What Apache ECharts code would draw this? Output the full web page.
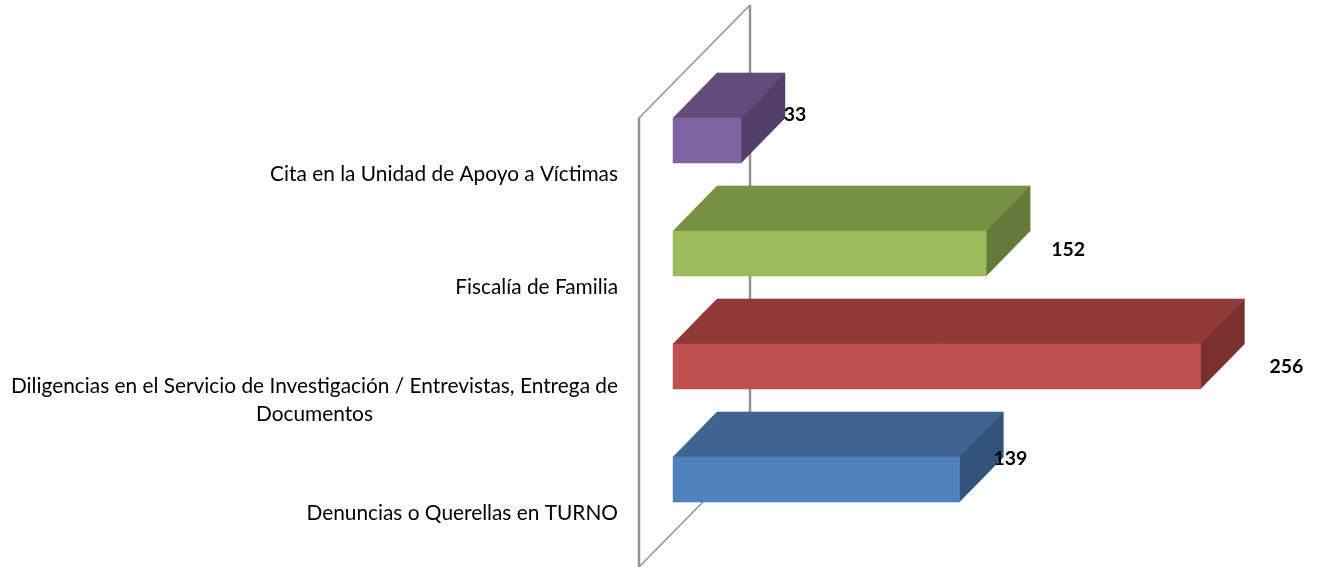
<!DOCTYPE html>
<html>
<head>
<meta charset="utf-8">
<style>
  html, body { margin: 0; padding: 0; background: #fff; }
  #main { width: 1342px; height: 567px; }
</style>
<script src="https://cdn.jsdelivr.net/npm/echarts@6/dist/echarts.min.js"></script>
</head>
<body>
<div id="main"></div>
<script>
// bottom to top, same order as the picture's axis
const categories = [
  'Denuncias o Querellas en TURNO',
  'Diligencias en el Servicio de Investigación / Entrevistas, Entrega de\nDocumentos',
  'Fiscalía de Familia',
  'Cita en la Unidad de Apoyo a Víctimas'
];
const values = [139, 256, 152, 33];

const frontColors = ['#4F81BD', '#C0504D', '#9BBB59', '#8064A2'];
const topColors = ['#3E648F', '#8F3A39', '#769141', '#624D7A'];
const sideColors = ['#32537A', '#7A302F', '#647A38', '#533F69'];

// the data labels sit in odd places in the original, so nudge each one from the bar end
const labelNudgeX = [51, 86, 82, 54];
const labelNudgeY = [-20.5, 0.5, -3.5, -25.5];

// fake 3d: the axis bands live on the front of the wall, the bars float above them
const barLift = 34;
const depthX = 44;
const depthY = 45;
const wallLeft = 34;
const wallDepthX = 111;
const wallDepthY = 113;
const wallColor = '#939393';

let myChart = echarts.init(document.getElementById('main'));

function renderWall(params, api) {
  const cs = params.coordSys;
  const x0 = cs.x - wallLeft;
  const x1 = x0 + wallDepthX;
  const top = cs.y;
  const bottom = api.getHeight();
  const line = (a, b, c, d, w) => ({
    type: 'line',
    shape: { x1: a, y1: b, x2: c, y2: d },
    style: { stroke: wallColor, lineWidth: w }
  });
  return {
    type: 'group',
    children: [
      line(x0, top, x0, bottom, 2.5),
      line(x1, top - wallDepthY, x1, bottom - wallDepthY, 2.5),
      line(x0, top, x1, top - wallDepthY, 1.6),
      line(x0, bottom, x1, bottom - wallDepthY, 1.6)
    ]
  };
}

function renderBar(params, api) {
  const i = params.dataIndex;
  const start = api.coord([0, api.value(1)]);
  const end = api.coord([api.value(0), api.value(1)]);
  const h = api.size([0, 1])[1] * 0.4;
  const x0 = start[0];
  const x1 = end[0];
  const y0 = end[1] - barLift - h / 2;
  const y1 = y0 + h;
  return {
    type: 'group',
    children: [
      {
        type: 'polygon',
        shape: { points: [[x0, y0], [x0 + depthX, y0 - depthY], [x1 + depthX, y0 - depthY], [x1, y0]] },
        style: { fill: topColors[i], stroke: topColors[i], lineWidth: 0.5 }
      },
      {
        type: 'polygon',
        shape: { points: [[x1, y0], [x1 + depthX, y0 - depthY], [x1 + depthX, y1 - depthY], [x1, y1]] },
        style: { fill: sideColors[i], stroke: sideColors[i], lineWidth: 0.5 }
      },
      {
        type: 'rect',
        shape: { x: x0, y: y0, width: x1 - x0, height: h },
        style: { fill: frontColors[i], stroke: frontColors[i], lineWidth: 0.5 }
      },
      {
        type: 'text',
        style: {
          x: x1 + labelNudgeX[i],
          y: end[1] - barLift + labelNudgeY[i],
          text: String(api.value(0)),
          fill: '#000',
          font: 'bold 19.5px Lato',
          align: 'center',
          verticalAlign: 'middle'
        }
      }
    ]
  };
}

myChart.setOption({
  animation: false,
  grid: { left: 673, top: 118, width: 618, height: 452, outerBoundsMode: 'none' },
  xAxis: { type: 'value', min: 0, max: 300, show: false },
  yAxis: {
    type: 'category',
    data: categories,
    axisLine: { show: false },
    axisTick: { show: false },
    axisLabel: {
      margin: 55,
      color: '#000',
      align: 'right',
      formatter: function (value) {
        return value.split('\n').map(s => '{c|' + s + '}').join('\n');
      },
      rich: { c: { align: 'center', fontFamily: 'Lato', fontSize: 20.85, lineHeight: 28, color: '#000' } }
    }
  },
  series: [
    {
      type: 'custom',
      coordinateSystem: 'cartesian2d',
      renderItem: renderWall,
      clip: false,
      silent: true,
      z: 1,
      data: [[0, 0]]
    },
    {
      type: 'custom',
      coordinateSystem: 'cartesian2d',
      renderItem: renderBar,
      clip: false,
      z: 2,
      encode: { x: 0, y: 1 },
      data: values.map((v, i) => [v, i])
    }
  ]
});
</script>
</body>
</html>
